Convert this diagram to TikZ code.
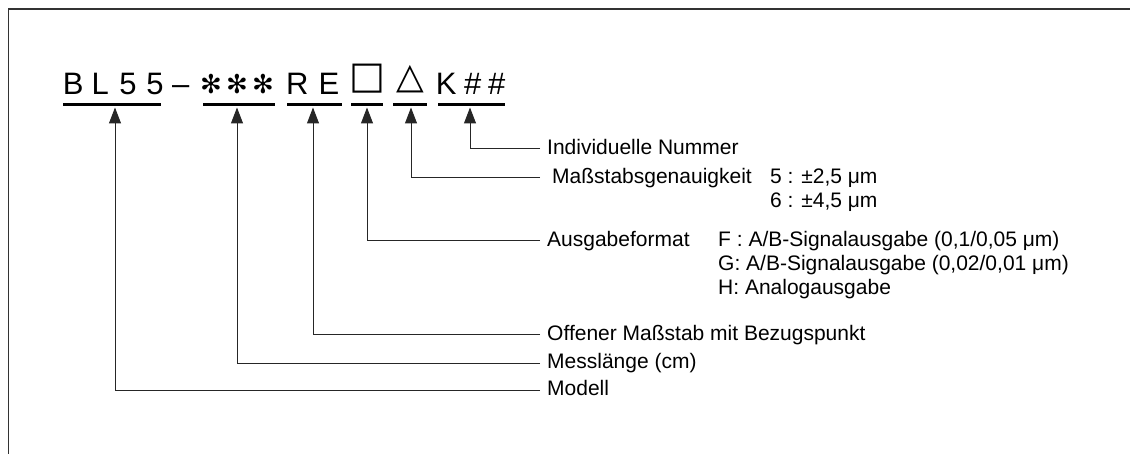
\documentclass[tikz,border=0pt]{standalone}
\usepackage{fontspec}
\setmainfont{Liberation Sans}
\newfontfamily\dejavu{DejaVu Sans}
\usetikzlibrary{arrows.meta}
\newcommand{\myLblFont}{\fontsize{21}{24}\selectfont}
\newcommand{\myCodeFont}{\fontsize{31}{31}\selectfont}
\begin{document}
\begin{tikzpicture}[x=1pt,y=-1pt,
  frame/.style={line width=1.5pt, draw=black!80},
  conn/.style={line width=1pt, draw=black!85},
  arr/.style={conn, -{Triangle[width=12pt,length=16pt]}},
  lbl/.style={anchor=west, inner xsep=7pt, inner ysep=0pt, font=\myLblFont, text height=10.9pt, text depth=0pt},
  sub/.style={anchor=west, inner sep=0pt, font=\myLblFont, text height=10.9pt, text depth=0pt},
  code/.style={anchor=base west, inner sep=0pt, font=\myCodeFont},
  sym/.style={anchor=center, inner sep=0pt},
  ast/.style={sym, font=\dejavu\fontsize{26}{26}\selectfont},
  ul/.style={fill=black, inner sep=0pt, minimum height=3.5pt, rectangle},
]
\useasboundingbox (0,0) rectangle (1130,454);
\draw[frame] (8.5,454) -- (8.5,9) -- (1130,9);

% code letters
\node[code] (cB)  at (62.7,95) {B};
\node[code] (cL)  at (91.5,95) {L};
\node[code] (c5a) at (119.2,95) {5};
\node[code] (c5b) at (146.2,95) {5};
\node[code] (cd)  at (172,95) {–};
\node[ast] (s1) at (211,84) {✻};
\node[ast] (s2) at (237,84) {✻};
\node[ast] (s3) at (263,84) {✻};
\node[code] (cR)  at (286,95) {R};
\node[code] (cE)  at (318.5,95) {E};
\node[sym, font=\dejavu\fontsize{38}{38}\selectfont] (sq) at (367.5,79) {□};
\node[sym, font=\dejavu\fontsize{36}{36}\selectfont] (tr) at (410,79.5) {△};
\node[code] (cK)  at (435.7,95) {K};
\node[code] (ch1) at (463.8,95) {\#};
\node[code] (ch2) at (488,95) {\#};

% underlines
\node[ul, minimum width=98pt] (u1) at (112,104.5) {};
\node[ul, minimum width=72pt] (u2) at (239,104.5) {};
\node[ul, minimum width=55pt] (u3) at (314.5,104.5) {};
\node[ul, minimum width=32pt] (u4) at (367,104.5) {};
\node[ul, minimum width=34pt] (u5) at (410,104.5) {};
\node[ul, minimum width=67pt] (u6) at (471.5,104.5) {};

% arrow tips
\coordinate (t1) at (115,107.5);
\coordinate (t2) at (237,107.5);
\coordinate (t3) at (313,107.5);
\coordinate (t4) at (367,107.5);
\coordinate (t5) at (411,107.5);
\coordinate (t6) at (470,107.5);

% labels
\node[lbl] (lK) at (540,149) {Individuelle Nummer};
\node[lbl, inner xsep=12pt] (lT) at (540,178) {Maßstabsgenauigkeit};
\node[sub] (lT5) at (770,178) {5 : ±2,5 μm};
\node[sub] (lT6) at (770,202) {6 : ±4,5 μm};
\node[lbl] (lS) at (540,241) {Ausgabeformat};
\node[sub] (lSF) at (718,241) {F : A/B-Signalausgabe (0,1/0,05 μm)};
\node[sub] (lSG) at (718,265) {G: A/B-Signalausgabe (0,02/0,01 μm)};
\node[sub] (lSH) at (718,289) {H: Analogausgabe};
\node[lbl] (lR) at (540,335) {Offener Maßstab mit Bezugspunkt};
\node[lbl] (lM) at (540,363) {Messlänge (cm)};
\node[lbl] (lB) at (540,390) {Modell};

% connectors
\draw[arr] (lK.west) -| (t6);
\draw[arr] (lT.west) -| (t5);
\draw[arr] (lS.west) -| (t4);
\draw[arr] (lR.west) -| (t3);
\draw[arr] (lM.west) -| (t2);
\draw[arr] (lB.west) -| (t1);
\end{tikzpicture}
\end{document}
